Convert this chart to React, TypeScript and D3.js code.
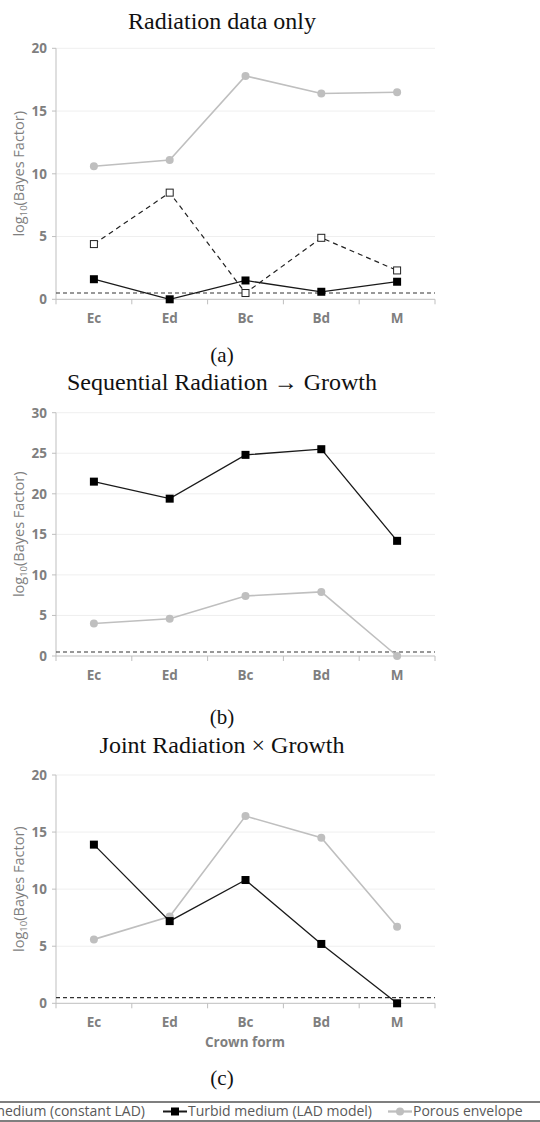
import { scaleBand, scaleLinear, line } from "d3";

const categories = ["Ec", "Ed", "Bc", "Bd", "M"];

// (a) Radiation data only
const radConstLAD = [4.4, 8.5, 0.5, 4.9, 2.3];
const radLADModel = [1.6, 0, 1.5, 0.6, 1.4];
const radPorous = [10.6, 11.1, 17.8, 16.4, 16.5];
// (b) Sequential Radiation -> Growth
const seqLADModel = [21.5, 19.4, 24.8, 25.5, 14.2];
const seqPorous = [4.0, 4.6, 7.4, 7.9, 0];
// (c) Joint Radiation x Growth
const jointLADModel = [13.9, 7.2, 10.8, 5.2, 0];
const jointPorous = [5.6, 7.6, 16.4, 14.5, 6.7];

const threshold = 0.5;
const ticks20 = [0, 5, 10, 15, 20];
const ticks30 = [0, 5, 10, 15, 20, 25, 30];

const legendLabels = ["Turbid medium (constant LAD)", "Turbid medium (LAD model)", "Porous envelope"];

const GREY = "#bfbfbf";
const AXIS = "#bfbfbf";
const TXT = "#7f7f7f";
const SANS = "'Open Sans', 'DejaVu Sans', sans-serif";
const SERIF = "'Liberation Serif', 'DejaVu Serif', serif";

type Kind = "const" | "model" | "porous";
interface Series {
  kind: Kind;
  values: number[];
}

interface PanelProps {
  title: string;
  tag: string;
  top: number;
  bottom: number;
  titleY: number;
  tagY: number;
  ticks: number[];
  series: Series[];
  xTitle?: string;
}

const x = scaleBand<string>().domain(categories).range([56, 435]);
const cx = (c: string) => (x(c) ?? 0) + x.bandwidth() / 2;

function Marker({ kind, px, py }: { kind: Kind; px: number; py: number }) {
  if (kind === "model") return <rect x={px - 4} y={py - 4} width={8} height={8} fill="#000" />;
  if (kind === "const")
    return <rect x={px - 3.5} y={py - 3.5} width={7} height={7} fill="#fff" stroke="#222" strokeWidth={1} />;
  return <circle cx={px} cy={py} r={4} fill={GREY} />;
}

function lineStyle(kind: Kind) {
  if (kind === "model") return { stroke: "#1a1a1a", strokeWidth: 1.3, dash: undefined };
  if (kind === "const") return { stroke: "#222", strokeWidth: 1.2, dash: "5,4" };
  return { stroke: GREY, strokeWidth: 1.6, dash: undefined };
}

function Panel({ title, tag, top, bottom, titleY, tagY, ticks, series, xTitle }: PanelProps) {
  const yMax = ticks[ticks.length - 1];
  const y = scaleLinear().domain([0, yMax]).range([bottom, top]);
  const [x0, x1] = x.range();
  const gen = line<number>()
    .x((_d, i) => cx(categories[i]))
    .y((d) => y(d));
  const bounds = categories.map((c) => x(c) ?? 0).concat([x1]);
  const midY = (top + bottom) / 2;
  return (
    <g>
      <text x={222} y={titleY} textAnchor="middle" fontFamily={SERIF} fontSize={24} fill="#111">
        {title}
      </text>
      {ticks.map((t) => (
        <g key={t}>
          {t > 0 && <line x1={x0} x2={x1} y1={y(t)} y2={y(t)} stroke="#efefef" strokeWidth={1} />}
          <line x1={x0 - 4} x2={x0} y1={y(t)} y2={y(t)} stroke={AXIS} />
          <text x={x0 - 9} y={y(t)} dy="0.36em" textAnchor="end" fontFamily={SANS} fontWeight={700} fontSize={13.5} fill={TXT}>
            {t}
          </text>
        </g>
      ))}
      <line x1={x0} x2={x0} y1={top} y2={bottom} stroke={AXIS} />
      <line x1={x0} x2={x1} y1={bottom} y2={bottom} stroke={AXIS} />
      {bounds.map((b, i) => (
        <line key={i} x1={b} x2={b} y1={bottom} y2={bottom + 5} stroke={AXIS} />
      ))}
      {categories.map((c) => (
        <text key={c} x={cx(c)} y={bottom + 19} dy="0.36em" textAnchor="middle" fontFamily={SANS} fontWeight={700} fontSize={13.5} fill={TXT}>
          {c}
        </text>
      ))}
      <text
        transform={`translate(19,${midY}) rotate(-90)`}
        textAnchor="middle"
        dy="0.35em"
        fontFamily={SANS}
        fontSize={14.5}
        fill={TXT}
      >
        log
        <tspan fontSize={9.5} dy="3">10</tspan>
        <tspan dy="-3">(Bayes Factor)</tspan>
      </text>
      <line
        x1={x0}
        x2={x1}
        y1={y(threshold)}
        y2={y(threshold)}
        stroke="#333"
        strokeWidth={1.1}
        strokeDasharray="4,3"
      />
      {series.map((s, si) => {
        const st = lineStyle(s.kind);
        return (
          <g key={si}>
            <path d={gen(s.values) || ""} fill="none" stroke={st.stroke} strokeWidth={st.strokeWidth} strokeDasharray={st.dash} />
            {s.values.map((v, i) => (
              <Marker key={i} kind={s.kind} px={cx(categories[i])} py={y(v)} />
            ))}
          </g>
        );
      })}
      {xTitle && (
        <text x={245} y={bottom + 39} dy="0.36em" textAnchor="middle" fontFamily={SANS} fontWeight={700} fontSize={13.5} fill={TXT}>
          {xTitle}
        </text>
      )}
      <text x={222} y={tagY} dy="0.35em" textAnchor="middle" fontFamily={SERIF} fontSize={21} fill="#111">
        {tag}
      </text>
    </g>
  );
}

function Legend() {
  const yL = 1111.5;
  const items: { kind: Kind; label: string; lx: number; anchorEnd?: boolean }[] = [
    { kind: "const", label: legendLabels[0], lx: 145, anchorEnd: true },
    { kind: "model", label: legendLabels[1], lx: 163 },
    { kind: "porous", label: legendLabels[2], lx: 388 },
  ];
  return (
    <g>
      <rect x={-100} y={1102} width={740} height={19} fill="#fff" stroke="#555" strokeWidth={1.5} />
      {items.map((it) => {
        const st = lineStyle(it.kind);
        const mx = it.anchorEnd ? it.lx - 230 : it.lx;
        return (
          <g key={it.label}>
            <line x1={mx} x2={mx + 24} y1={yL} y2={yL} stroke={st.stroke} strokeWidth={st.strokeWidth + 0.7} strokeDasharray={st.dash} />
            <Marker kind={it.kind} px={mx + 12} py={yL} />
            <text
              x={it.anchorEnd ? it.lx : it.lx + 25}
              y={yL}
              dy="0.35em"
              textAnchor={it.anchorEnd ? "end" : "start"}
              fontFamily={SANS}
              fontSize={14}
              fill="#595959"
            >
              {it.label}
            </text>
          </g>
        );
      })}
    </g>
  );
}

export default function App() {
  return (
    <div style={{ position: "absolute", left: 0, top: 0, width: 540, height: 1122, background: "#fff" }}>
      <svg width={540} height={1122} viewBox="0 0 540 1122" style={{ display: "block" }}>
        <rect width={540} height={1122} fill="#fff" />
        <Panel
          title="Radiation data only"
          tag="(a)"
          top={48.3}
          bottom={299.3}
          titleY={29}
          tagY={355}
          ticks={ticks20}
          series={[
            { kind: "porous", values: radPorous },
            { kind: "const", values: radConstLAD },
            { kind: "model", values: radLADModel },
          ]}
        />
        <Panel
          title="Sequential Radiation → Growth"
          tag="(b)"
          top={412.7}
          bottom={656}
          titleY={390}
          tagY={717}
          ticks={ticks30}
          series={[
            { kind: "porous", values: seqPorous },
            { kind: "model", values: seqLADModel },
          ]}
        />
        <Panel
          title="Joint Radiation × Growth"
          tag="(c)"
          top={775}
          bottom={1003.3}
          titleY={753}
          tagY={1078}
          ticks={ticks20}
          xTitle="Crown form"
          series={[
            { kind: "porous", values: jointPorous },
            { kind: "model", values: jointLADModel },
          ]}
        />
        <Legend />
      </svg>
    </div>
  );
}
